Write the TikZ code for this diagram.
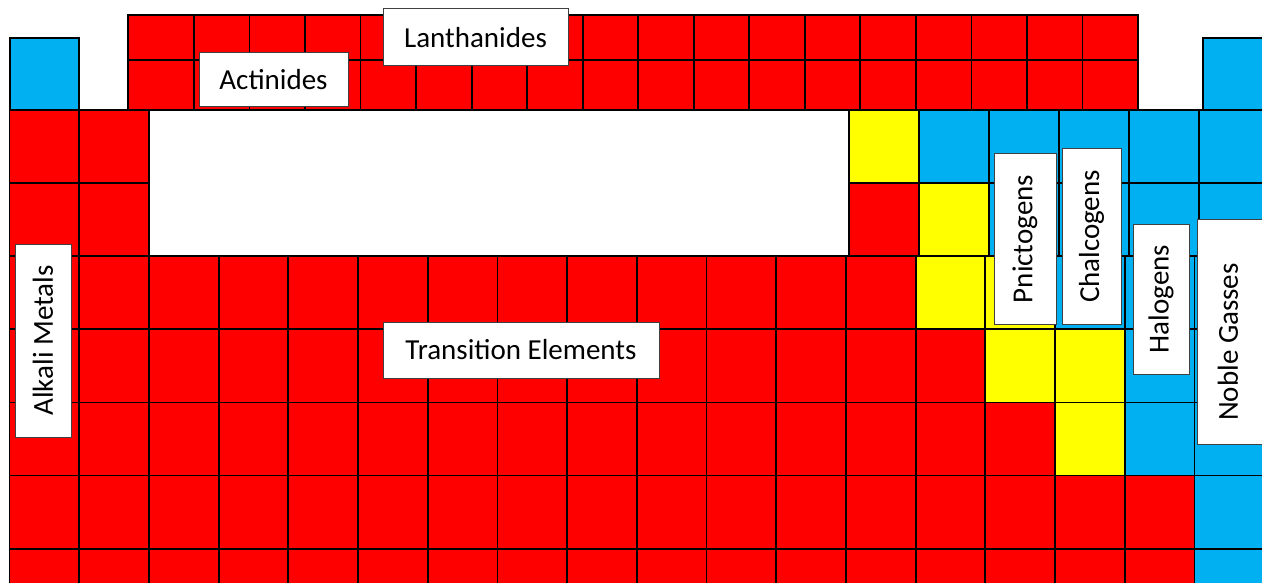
\documentclass[tikz,border=0pt]{standalone}
\usepackage{fontspec}
\setmainfont{Carlito}
\definecolor{cR}{HTML}{FF0000}
\definecolor{cB}{HTML}{00B0F0}
\definecolor{cY}{HTML}{FFFF00}
\newcommand{\cellx}{9.5}
\newcommand{\cellw}{69.7}
\newcommand{\celly}{110}
\newcommand{\cellh}{73.1}

\begin{document}
\begin{tikzpicture}[x=1pt,y=-1pt,
  cell/.style={draw=black,line width=1.8pt},
  lbl/.style={draw=black!75,line width=1pt,fill=white,inner sep=0pt,font=\fontsize{29}{34}\selectfont},
  side/.style={lbl,rotate=90}]
\useasboundingbox (0,0) rectangle (1262,583);
\clip (0,0) rectangle (1262,583);
% first period
\draw[cell,fill=cB] (10,38) rectangle (79,110);
\draw[cell,fill=cB] (1203,38) rectangle (1280,110);
% left block, rows 1-2
\foreach \r in {1,2}
  \foreach \c in {1,2}
    \draw[cell,fill=cR] ({\cellx+(\c-1)*\cellw},{\celly+(\r-1)*\cellh}) rectangle ++(\cellw,\cellh);
% right block, rows 1-2
\foreach \r/\row in {1/{Y,B,B,B,B,B},2/{R,Y,B,B,B,B}}
  \foreach \k [count=\c] in \row
    \draw[cell,fill=c\k] ({849+(\c-1)*70},{\celly+(\r-1)*\cellh}) rectangle ++(70,\cellh);
% full rows
\foreach \r/\row in {3/{R,R,R,R,R,R,R,R,R,R,R,R,R,Y,Y,B,B,B},
                     4/{R,R,R,R,R,R,R,R,R,R,R,R,R,R,Y,Y,B,B},
                     5/{R,R,R,R,R,R,R,R,R,R,R,R,R,R,R,Y,B,B},
                     6/{R,R,R,R,R,R,R,R,R,R,R,R,R,R,R,R,R,B},
                     7/{R,R,R,R,R,R,R,R,R,R,R,R,R,R,R,R,R,B}}
  \foreach \k [count=\c] in \row
    \draw[cell,fill=c\k] ({\cellx+(\c-1)*\cellw},{\celly+(\r-1)*\cellh}) rectangle ++(\cellw,\cellh);
% lanthanides and actinides
\foreach \ya/\yb in {15/60,60/110}{
  \draw[cell,fill=cR] (128,\ya) rectangle (194,\yb);
  \foreach \c in {0,...,16}
    \draw[cell,fill=cR] ({194+\c*55.53},\ya) rectangle ({194+(\c+1)*55.53},\yb);
}
% labels
\node[lbl,minimum width=185,minimum height=57] (lanth) at (475.5,37.5) {Lanthanides};
\node[lbl,minimum width=149,minimum height=54] (actin) at (273.5,80) {Actinides};
\node[lbl,minimum width=276,minimum height=56] (trans) at (521,350) {Transition Elements};
\node[side,minimum width=193,minimum height=56] (alkali) at (43,340.5) {Alkali Metals};
\node[side,minimum width=170,minimum height=62] (pnict) at (1025,239) {Pnictogens};
\node[side,minimum width=175,minimum height=59] (chalc) at (1091.5,236.5) {Chalcogens};
\node[side,minimum width=150,minimum height=56] (halo) at (1161,299) {Halogens};
\draw[lbl] (1197,220) rectangle (1290,444);
\node[side,draw=none,fill=none] (noble) at (1228,342) {Noble Gasses};
\end{tikzpicture}
\end{document}
